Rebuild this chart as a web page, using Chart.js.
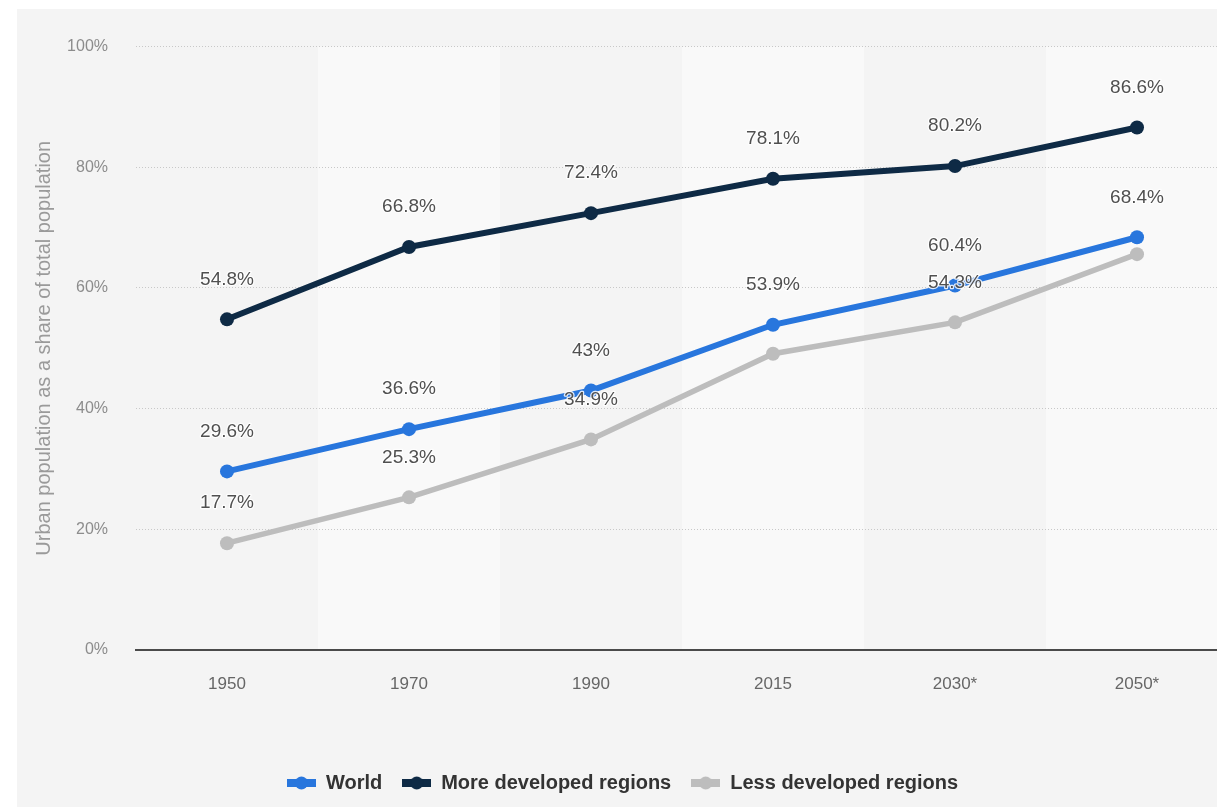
<!DOCTYPE html>
<html>
<head>
<meta charset="utf-8">
<title>Urban population share</title>
<script src="https://cdn.jsdelivr.net/npm/chart.js@4.4.1/dist/chart.umd.min.js"></script>
<style>
  html, body { margin: 0; padding: 0; background: #fff; overflow: hidden; }
  .panel { position: absolute; left: 17px; top: 9px; width: 1220px; height: 798px; background: #f4f4f4; }
</style>
</head>
<body>
<div class="panel"><canvas id="chart"></canvas></div>
<script>
const years = ['1950', '1970', '1990', '2015', '2030*', '2050*'];
const world = [29.6, 36.6, 43, 53.9, 60.4, 68.4];
const moreDeveloped = [54.8, 66.8, 72.4, 78.1, 80.2, 86.6];
const lessDeveloped = [17.7, 25.3, 34.9, 49.1, 54.3, 65.6];
// the source hides a couple of labels where they would collide
const worldShown = [true, true, true, true, true, true];
const moreShown = [true, true, true, true, true, true];
const lessShown = [true, true, true, false, true, false];
const yTicks = [0, 20, 40, 60, 80, 100];

const FONT = "'Liberation Sans', Arial, Helvetica, sans-serif";

function legendMarker(color) {
  const c = document.createElement('canvas');
  c.width = 29; c.height = 14;
  const g = c.getContext('2d');
  g.fillStyle = color;
  g.fillRect(0, 3, 29, 8);
  g.beginPath();
  g.arc(14.5, 7, 6.5, 0, Math.PI * 2);
  g.fill();
  return c;
}

const bandPlugin = {
  id: 'bands',
  beforeDraw(chart) {
    const { ctx, chartArea, scales } = chart;
    const x = scales.x;
    const w = x.width / years.length;
    ctx.save();
    ctx.fillStyle = '#f9f9f9';
    years.forEach((y, i) => {
      if (i % 2 === 1) {
        const cx = x.getPixelForValue(i);
        ctx.fillRect(cx - w / 2, chartArea.top, w, chartArea.bottom - chartArea.top);
      }
    });
    ctx.restore();
  }
};

const labelPlugin = {
  id: 'valueLabels',
  afterDatasetsDraw(chart) {
    const ctx = chart.ctx;
    ctx.save();
    ctx.font = '19px ' + FONT;
    ctx.textAlign = 'center';
    ctx.textBaseline = 'middle';
    ctx.lineJoin = 'round';
    chart.data.datasets.forEach((ds, di) => {
      const meta = chart.getDatasetMeta(di);
      meta.data.forEach((pt, i) => {
        if (!ds.shown[i]) return;
        const txt = ds.data[i] + '%';
        ctx.strokeStyle = 'rgba(255,255,255,0.85)';
        ctx.lineWidth = 2.5;
        ctx.strokeText(txt, pt.x, pt.y - 40);
        ctx.fillStyle = '#505050';
        ctx.fillText(txt, pt.x, pt.y - 40);
      });
    });
    ctx.restore();
  }
};

function series(label, data, color, width, shown) {
  return {
    label: label,
    data: data,
    shown: shown,
    borderColor: color,
    backgroundColor: color,
    borderWidth: width,
    pointRadius: 7,
    pointHoverRadius: 7,
    pointBorderWidth: 0,
    pointBackgroundColor: color,
    tension: 0,
    marker: legendMarker(color)
  };
}

new Chart(document.getElementById('chart'), {
  type: 'line',
  data: {
    labels: years,
    datasets: [
      series('World', world, '#2876dd', 6, worldShown),
      series('More developed regions', moreDeveloped, '#0e2a45', 6, moreShown),
      series('Less developed regions', lessDeveloped, '#bdbdbd', 5.5, lessShown)
    ]
  },
  options: {
    responsive: true,
    maintainAspectRatio: false,
    animation: false,
    layout: { padding: { top: 35, right: 9, left: 0, bottom: 4 } },
    scales: {
      x: {
        offset: true,
        grid: { display: false, drawTicks: false },
        border: { display: true, color: '#4a4a4a', width: 2 },
        ticks: { color: '#666', font: { family: FONT, size: 17 }, padding: 24, autoSkip: false, maxRotation: 0 },
        afterFit(s) { s.height = 103; }
      },
      y: {
        min: 0,
        max: 100,
        afterBuildTicks(s) { s.ticks = yTicks.map(v => ({ value: v })); },
        grid: { color: '#c8c8c8', lineWidth: 1, drawTicks: false },
        border: { display: false, dash: [1, 2] },
        ticks: {
          color: '#8c8c8c',
          font: { family: FONT, size: 16 },
          padding: 28,
          callback: v => v + '%'
        },
        title: {
          display: true,
          text: 'Urban population as a share of total population',
          color: '#9a9a9a',
          font: { family: FONT, size: 20 },
          padding: { top: 15, bottom: 0 }
        },
        afterFit(s) { s.width = 119; }
      }
    },
    plugins: {
      tooltip: { enabled: false },
      legend: {
        position: 'bottom',
        labels: {
          usePointStyle: true,
          pointStyleWidth: 29,
          padding: 20,
          color: '#333',
          font: { family: FONT, size: 20, weight: 'bold' },
          generateLabels(chart) {
            const items = Chart.defaults.plugins.legend.labels.generateLabels(chart);
            items.forEach(it => { it.pointStyle = chart.data.datasets[it.datasetIndex].marker; });
            return items;
          }
        }
      }
    }
  },
  plugins: [bandPlugin, labelPlugin]
});
</script>
</body>
</html>
